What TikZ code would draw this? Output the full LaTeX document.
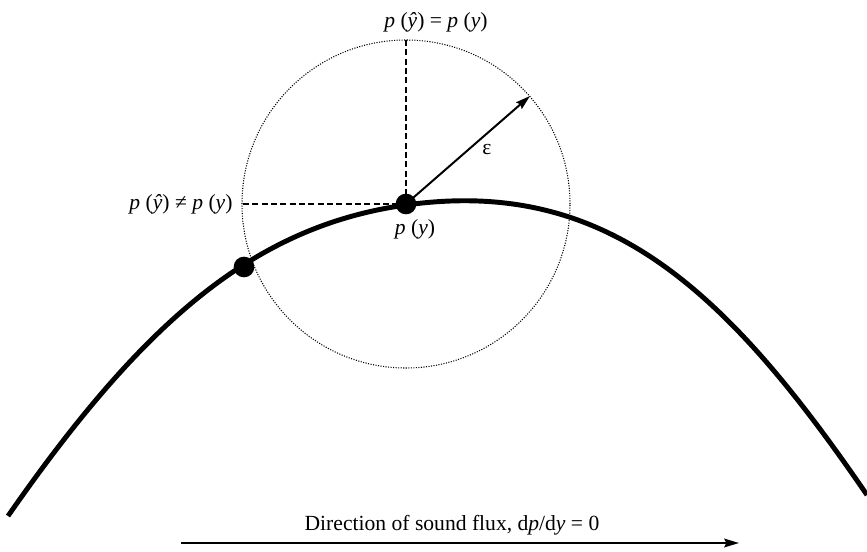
\documentclass[tikz,border=0pt]{standalone}
\usepackage{fontspec}
\setmainfont{Liberation Serif}
\usetikzlibrary{arrows.meta}
\begin{document}
\begin{tikzpicture}[x=0.75pt,y=-0.75pt,
  lbl/.style={inner sep=0pt,font=\fontsize{16.2pt}{19pt}\selectfont},
  dotpt/.style={circle,fill=black,inner sep=0pt,minimum size=15.5pt},
  guide/.style={line width=2pt,dash pattern=on 4.5pt off 2.5pt},
  ring/.style={line width=0.8pt,dash pattern=on 0.8pt off 1.1pt},
  flux/.style={line width=3.7pt},
  arr/.style={line width=1.5pt,-{Stealth[length=11pt,width=6.5pt,inset=1.5pt]}}]
\useasboundingbox (0,0) rectangle (867,552);
% circle of radius epsilon
\draw[ring] (406,204) circle[radius=123pt];
% curve
\coordinate (s) at (8,516);
\coordinate (m) at (406,205);
\coordinate (e) at (867,495);
\draw[flux] (s) .. controls (145,319) and (256,226) .. (m)
            .. controls (606,177) and (726,289) .. (e);
% points
\coordinate (top) at (406,40);
\coordinate (hl) at (243,204);
\coordinate (re) at (530,96);
\node[dotpt] (c) at (406,204) {};
\node[dotpt] (l) at (244,267) {};
\draw[guide] (top) -- (c.center);
\draw[guide] (hl) -- (c.center);
\draw[arr] (c.center) -- (re);
% labels
\node[lbl,anchor=base] (ltop) at (436,28) {\textit{p} (\textit{\^y}) = \textit{p} (\textit{y})};
\node[lbl,anchor=base] (lleft) at (181,210) {\textit{p} (\textit{\^y}) ≠ \textit{p} (\textit{y})};
\node[lbl,anchor=base] (lc) at (415,235) {\textit{p} (\textit{y})};
\node[lbl] (leps) at (487,150) {ε};
% bottom arrow
\coordinate (fa) at (181,543);
\coordinate (fb) at (739,543);
\draw[arr] (fa) -- (fb);
\node[lbl,anchor=base] (ftxt) at (452,530) {Direction of sound flux, d\textit{p}/d\textit{y} = 0};
\end{tikzpicture}
\end{document}
